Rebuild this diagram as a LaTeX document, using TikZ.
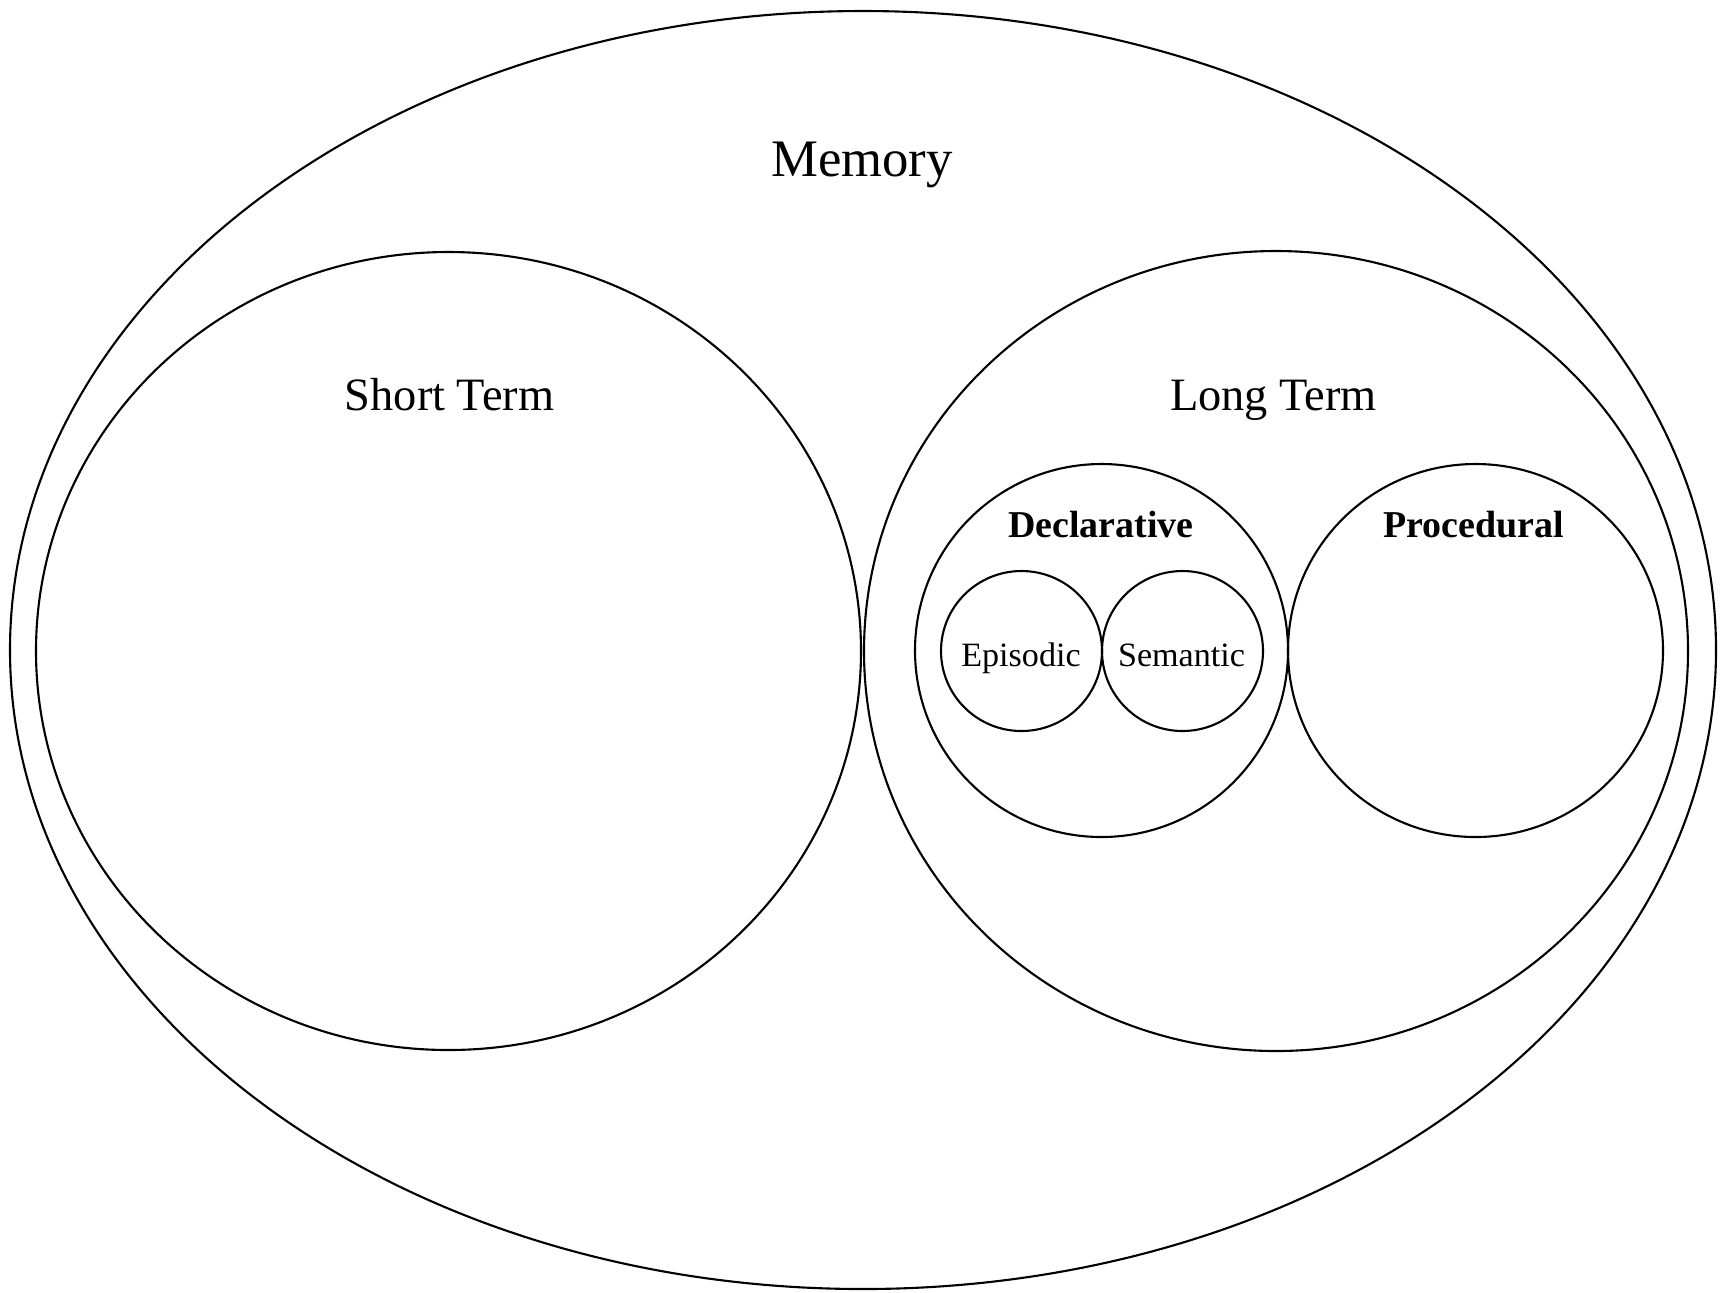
\documentclass[tikz,border=0pt]{standalone}
\usepackage{fontspec}
\setmainfont{Liberation Serif}
\usetikzlibrary{shapes.geometric}
\usetikzlibrary{positioning}
\tikzset{
    ring/.style = {ellipse, draw=black, line width=0.6pt, inner sep=0pt},
    bigtext/.style = {anchor=base, font=\fontsize{15}{18}\selectfont},
    midtext/.style = {anchor=base, font=\fontsize{13.2}{16}\selectfont},
    boldtext/.style = {anchor=base, font=\fontsize{10.8}{13}\selectfont\bfseries},
    smalltext/.style = {anchor=base, font=\fontsize{9.7}{12}\selectfont}
}
\begin{document}
\begin{tikzpicture}
\path[use as bounding box] (0,0) rectangle (17.32,-12.92);
%
\node[ring, minimum width=17.06cm, minimum height=12.78cm] at (8.63,-6.50) (memory) {};
\node[ring, minimum width=8.25cm, minimum height=7.98cm] at (4.485,-6.51) (short) {};
\node[ring, minimum width=8.24cm, minimum height=8.00cm] at (12.76,-6.51) (long) {};
\node[ring, minimum width=3.73cm, minimum height=3.73cm] at (11.015,-6.505) (decl) {};
\node[ring, minimum width=3.75cm, minimum height=3.73cm] at (14.755,-6.505) (proc) {};
\node[ring, minimum width=1.61cm, minimum height=1.60cm] at (10.215,-6.51) (epi) {};
\node[ring, minimum width=1.61cm, minimum height=1.60cm] at (11.825,-6.51) (sem) {};
%
\node[bigtext] at (8.62,-1.76) (memorytxt) {Memory};
\node[midtext] at (4.495,-4.10) (shorttxt) {Short Term};
\node[midtext] at (12.735,-4.10) (longtxt) {Long Term};
\node[boldtext] at (11.01,-5.37) (decltxt) {Declarative};
\node[boldtext] at (14.735,-5.37) (proctxt) {Procedural};
\node[smalltext] at (10.21,-6.66) (epitxt) {Episodic};
\node[smalltext] at (11.815,-6.66) (semtxt) {Semantic};
\end{tikzpicture}
\end{document}
